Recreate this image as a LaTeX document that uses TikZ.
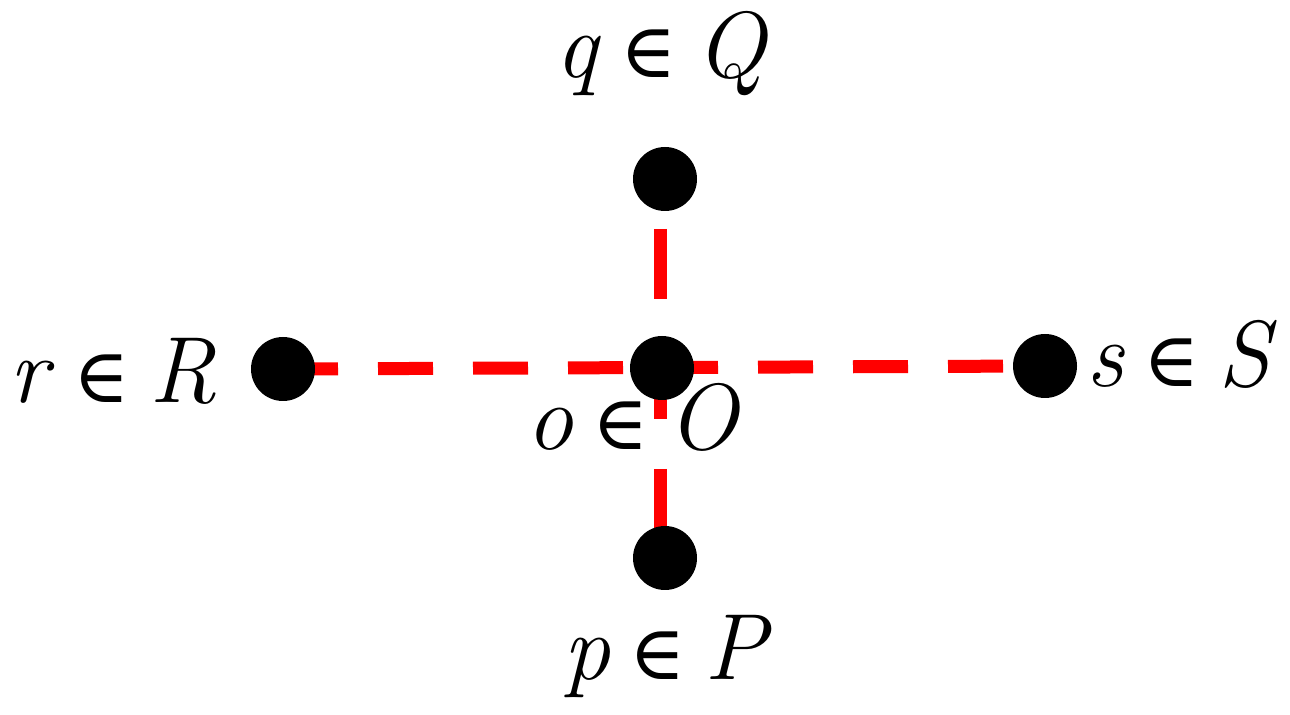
\documentclass[tikz,border=0pt]{standalone}
\usepackage{fontspec}
\newfontfamily\symfont{DejaVu Serif}
\usepackage{tikz}
\usetikzlibrary{positioning}
\newcommand{\member}[2]{\textit{#1}\hspace{0.2em}{\symfont\fontsize{38}{42}\selectfont ∈}\hspace{0.2em}\textit{#2}}
\tikzset{
  point/.style={circle, fill=black, inner sep=0pt, minimum size=32pt},
  label/.style={anchor=base, inner sep=0pt, font=\fontsize{47}{52}\selectfont},
  link/.style={red, line width=6.5pt},
}

\begin{document}
\begin{tikzpicture}[x=0.5pt, y=-0.5pt]
    \useasboundingbox (0,0) rectangle (1290,715);

    % Links
    \coordinate (qc) at (660,179);
    \coordinate (pc) at (660,558);
    \coordinate (rc) at (283,369);
    \coordinate (sc) at (1045,366);
    \draw[link, dash pattern=on 35pt off 25pt, dash phase=35pt] (qc) -- (pc);
    \draw[link, dash pattern=on 27.5pt off 20pt] (rc) -- (sc);

    % Points
    \node[point] (q) at (665,179) {};
    \node[point] (r) at (283,369) {};
    \node[point] (o) at (662,368) {};
    \node[point] (s) at (1045,366) {};
    \node[point] (p) at (665,558) {};

    % Labels
    \node[label] (lq) at (662,78) {\member{q}{Q}};
    \node[label] (lr) at (113,403) {\member{r}{R}};
    \node[label] (lo) at (633,450) {\member{o}{O}};
    \node[label] (ls) at (1182,387) {\member{s}{S}};
    \node[label] (lp) at (668,679) {\member{p}{P}};

\end{tikzpicture}
\end{document}
